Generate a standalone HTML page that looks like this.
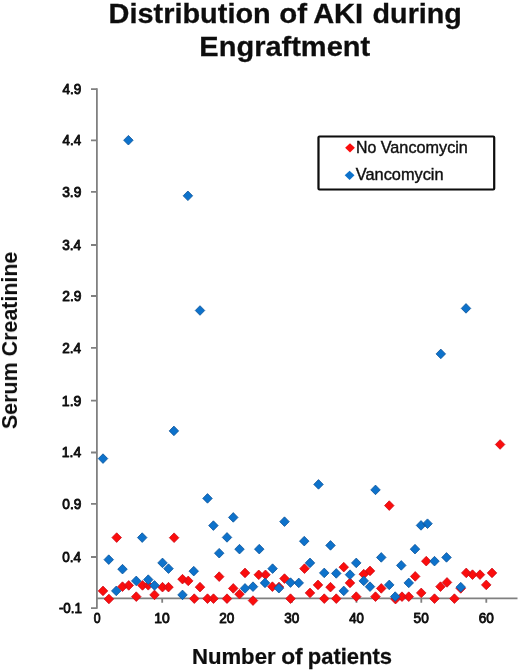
<!DOCTYPE html>
<html><head><meta charset="utf-8"><title>Distribution of AKI during Engraftment</title>
<style>html,body{margin:0;padding:0;background:#fff}svg{display:block}text{font-family:"Liberation Sans",sans-serif;fill:#111}</style></head><body>
<svg width="520" height="670" viewBox="0 0 520 670">
<defs><filter id="soft" x="0" y="0" width="520" height="670" filterUnits="userSpaceOnUse"><feGaussianBlur stdDeviation="0.5"/></filter></defs>
<rect width="520" height="670" fill="#fff"/>
<g filter="url(#soft)">
<g font-weight="bold" font-size="28" stroke="#111" stroke-width="0.3">
<text transform="translate(108.56,23.00) scale(1.0326,1)">Distribution</text>
<text transform="translate(279.28,23.00) scale(1.0509,1)">of</text>
<text transform="translate(313.15,23.00) scale(1.0377,1)">AKI</text>
<text transform="translate(372.56,23.00) scale(1.0262,1)">during</text>
<text transform="translate(199.36,55.80) scale(1.0363,1)">Engraftment</text>
</g>
<g stroke="#808080" stroke-width="1.8" fill="none">
<path d="M96.9,88.35V608.85"/>
<path d="M96.9,598.4H517.5"/>
<path d="M91.0,89.10H96.9M91.0,140.30H96.9M91.0,191.90H96.9M91.0,245.00H96.9M91.0,296.00H96.9M91.0,347.80H96.9M91.0,400.70H96.9M91.0,452.50H96.9M91.0,503.80H96.9M91.0,557.00H96.9M91.0,608.10H96.9"/>
<path d="M162.2,598.4v4.3M226.8,598.4v4.3M291.9,598.4v4.3M356.5,598.4v4.3M421.3,598.4v4.3M486.3,598.4v4.3"/>
</g>
<g font-size="14.4" stroke="#111" stroke-width="0.9" stroke-linejoin="round">
<text transform="translate(62.58,93.90) scale(0.9398,1)">4.9</text>
<text transform="translate(62.58,145.10) scale(0.9261,1)">4.4</text>
<text transform="translate(62.20,196.70) scale(0.9590,1)">3.9</text>
<text transform="translate(62.21,249.80) scale(0.9448,1)">3.4</text>
<text transform="translate(62.21,300.80) scale(0.9588,1)">2.9</text>
<text transform="translate(62.22,352.60) scale(0.9446,1)">2.4</text>
<text transform="translate(61.81,405.50) scale(0.9793,1)">1.9</text>
<text transform="translate(61.83,457.30) scale(0.9645,1)">1.4</text>
<text transform="translate(62.31,508.60) scale(0.9534,1)">0.9</text>
<text transform="translate(62.32,561.80) scale(0.9394,1)">0.4</text>
<text transform="translate(58.90,612.90) scale(0.9335,1)">-0.1</text>
<text transform="translate(93.67,623.10) scale(0.8569,1)">0</text>
<text transform="translate(154.23,623.10) scale(0.9668,1)">10</text>
<text transform="translate(219.22,623.10) scale(0.9412,1)">20</text>
<text transform="translate(284.32,623.10) scale(0.9414,1)">30</text>
<text transform="translate(349.28,623.10) scale(0.9176,1)">40</text>
<text transform="translate(413.62,623.10) scale(0.9478,1)">50</text>
<text transform="translate(478.67,623.10) scale(0.9442,1)">60</text>
</g>
<g font-weight="bold" font-size="22" stroke="#111" stroke-width="0.25">
<text transform="translate(191.91,664.00) scale(1.0069,1)">Number</text>
<text transform="translate(281.16,664.00) scale(1.0375,1)">of</text>
<text transform="translate(307.71,664.00) scale(1.0001,1)">patients</text>
</g>
<text font-weight="bold" font-size="21.6" transform="translate(17.0,429.13) rotate(-90) scale(0.9931,1)">Serum Creatinine</text>
<path fill="#fb0e0e" stroke="#cc0a18" stroke-width="0.8" d="M98.25,590.90L103.00,586.10L107.75,590.90L103.00,595.70ZM104.15,599.00L108.90,594.20L113.65,599.00L108.90,603.80ZM111.95,537.60L116.70,532.80L121.45,537.60L116.70,542.40ZM117.75,586.65L122.50,581.85L127.25,586.65L122.50,591.45ZM124.00,585.40L128.75,580.60L133.50,585.40L128.75,590.20ZM131.50,596.65L136.25,591.85L141.00,596.65L136.25,601.45ZM137.75,585.40L142.50,580.60L147.25,585.40L142.50,590.20ZM143.50,585.30L148.25,580.50L153.00,585.30L148.25,590.10ZM149.75,594.90L154.50,590.10L159.25,594.90L154.50,599.70ZM157.75,587.15L162.50,582.35L167.25,587.15L162.50,591.95ZM163.75,587.15L168.50,582.35L173.25,587.15L168.50,591.95ZM169.35,537.70L174.10,532.90L178.85,537.70L174.10,542.50ZM177.75,579.15L182.50,574.35L187.25,579.15L182.50,583.95ZM183.50,580.90L188.25,576.10L193.00,580.90L188.25,585.70ZM189.50,598.65L194.25,593.85L199.00,598.65L194.25,603.45ZM195.25,587.15L200.00,582.35L204.75,587.15L200.00,591.95ZM202.75,598.65L207.50,593.85L212.25,598.65L207.50,603.45ZM208.75,598.65L213.50,593.85L218.25,598.65L213.50,603.45ZM214.45,576.65L219.20,571.85L223.95,576.65L219.20,581.45ZM222.25,598.65L227.00,593.85L231.75,598.65L227.00,603.45ZM228.50,588.40L233.25,583.60L238.00,588.40L233.25,593.20ZM234.75,594.15L239.50,589.35L244.25,594.15L239.50,598.95ZM240.25,572.90L245.00,568.10L249.75,572.90L245.00,577.70ZM248.25,600.60L253.00,595.80L257.75,600.60L253.00,605.40ZM254.00,574.80L258.75,570.00L263.50,574.80L258.75,579.60ZM260.75,574.80L265.50,570.00L270.25,574.80L265.50,579.60ZM267.65,586.65L272.40,581.85L277.15,586.65L272.40,591.45ZM274.25,587.00L279.00,582.20L283.75,587.00L279.00,591.80ZM279.75,578.60L284.50,573.80L289.25,578.60L284.50,583.40ZM285.75,598.65L290.50,593.85L295.25,598.65L290.50,603.45ZM299.75,568.65L304.50,563.85L309.25,568.65L304.50,573.45ZM305.25,592.90L310.00,588.10L314.75,592.90L310.00,597.70ZM313.25,584.90L318.00,580.10L322.75,584.90L318.00,589.70ZM319.50,598.65L324.25,593.85L329.00,598.65L324.25,603.45ZM325.75,587.15L330.50,582.35L335.25,587.15L330.50,591.95ZM331.50,598.65L336.25,593.85L341.00,598.65L336.25,603.45ZM339.00,567.15L343.75,562.35L348.50,567.15L343.75,571.95ZM345.25,582.90L350.00,578.10L354.75,582.90L350.00,587.70ZM351.50,596.65L356.25,591.85L361.00,596.65L356.25,601.45ZM359.00,574.15L363.75,569.35L368.50,574.15L363.75,578.95ZM365.25,570.90L370.00,566.10L374.75,570.90L370.00,575.70ZM370.75,596.65L375.50,591.85L380.25,596.65L375.50,601.45ZM376.50,588.40L381.25,583.60L386.00,588.40L381.25,593.20ZM384.50,505.60L389.25,500.80L394.00,505.60L389.25,510.40ZM390.75,599.15L395.50,594.35L400.25,599.15L395.50,603.95ZM397.25,596.65L402.00,591.85L406.75,596.65L402.00,601.45ZM404.00,596.65L408.75,591.85L413.50,596.65L408.75,601.45ZM410.45,576.40L415.20,571.60L419.95,576.40L415.20,581.20ZM416.50,592.90L421.25,588.10L426.00,592.90L421.25,597.70ZM421.50,561.15L426.25,556.35L431.00,561.15L426.25,565.95ZM429.75,598.65L434.50,593.85L439.25,598.65L434.50,603.45ZM435.75,586.65L440.50,581.85L445.25,586.65L440.50,591.45ZM442.25,582.40L447.00,577.60L451.75,582.40L447.00,587.20ZM449.65,598.65L454.40,593.85L459.15,598.65L454.40,603.45ZM456.00,588.40L460.75,583.60L465.50,588.40L460.75,593.20ZM461.50,572.90L466.25,568.10L471.00,572.90L466.25,577.70ZM467.75,574.65L472.50,569.85L477.25,574.65L472.50,579.45ZM475.25,574.65L480.00,569.85L484.75,574.65L480.00,579.45ZM481.50,584.90L486.25,580.10L491.00,584.90L486.25,589.70ZM487.25,572.90L492.00,568.10L496.75,572.90L492.00,577.70ZM495.35,444.50L500.10,439.70L504.85,444.50L500.10,449.30Z"/>
<path fill="#0d72cb" stroke="#0c5499" stroke-width="0.8" d="M98.25,458.60L103.00,453.80L107.75,458.60L103.00,463.40ZM104.00,559.65L108.75,554.85L113.50,559.65L108.75,564.45ZM111.50,590.90L116.25,586.10L121.00,590.90L116.25,595.70ZM117.75,569.15L122.50,564.35L127.25,569.15L122.50,573.95ZM123.65,140.20L128.40,135.40L133.15,140.20L128.40,145.00ZM131.50,580.90L136.25,576.10L141.00,580.90L136.25,585.70ZM137.45,537.60L142.20,532.80L146.95,537.60L142.20,542.40ZM143.50,579.65L148.25,574.85L153.00,579.65L148.25,584.45ZM149.75,585.40L154.50,580.60L159.25,585.40L154.50,590.20ZM157.75,562.90L162.50,558.10L167.25,562.90L162.50,567.70ZM163.75,568.65L168.50,563.85L173.25,568.65L168.50,573.45ZM169.15,430.90L173.90,426.10L178.65,430.90L173.90,435.70ZM177.75,594.90L182.50,590.10L187.25,594.90L182.50,599.70ZM183.15,195.80L187.90,191.00L192.65,195.80L187.90,200.60ZM189.00,571.15L193.75,566.35L198.50,571.15L193.75,575.95ZM195.25,310.50L200.00,305.70L204.75,310.50L200.00,315.30ZM202.75,498.40L207.50,493.60L212.25,498.40L207.50,503.20ZM208.65,525.60L213.40,520.80L218.15,525.60L213.40,530.40ZM214.45,553.20L219.20,548.40L223.95,553.20L219.20,558.00ZM222.25,537.40L227.00,532.60L231.75,537.40L227.00,542.20ZM228.50,517.40L233.25,512.60L238.00,517.40L233.25,522.20ZM234.75,549.15L239.50,544.35L244.25,549.15L239.50,553.95ZM240.25,588.40L245.00,583.60L249.75,588.40L245.00,593.20ZM248.25,586.65L253.00,581.85L257.75,586.65L253.00,591.45ZM254.50,549.15L259.25,544.35L264.00,549.15L259.25,553.95ZM260.25,582.90L265.00,578.10L269.75,582.90L265.00,587.70ZM267.85,568.65L272.60,563.85L277.35,568.65L272.60,573.45ZM274.15,588.20L278.90,583.40L283.65,588.20L278.90,593.00ZM279.75,521.65L284.50,516.85L289.25,521.65L284.50,526.45ZM285.75,582.60L290.50,577.80L295.25,582.60L290.50,587.40ZM294.00,582.90L298.75,578.10L303.50,582.90L298.75,587.70ZM299.50,541.15L304.25,536.35L309.00,541.15L304.25,545.95ZM305.25,562.90L310.00,558.10L314.75,562.90L310.00,567.70ZM313.75,484.40L318.50,479.60L323.25,484.40L318.50,489.20ZM319.50,572.90L324.25,568.10L329.00,572.90L324.25,577.70ZM325.75,545.40L330.50,540.60L335.25,545.40L330.50,550.20ZM331.50,573.40L336.25,568.60L341.00,573.40L336.25,578.20ZM339.00,590.90L343.75,586.10L348.50,590.90L343.75,595.70ZM345.25,574.65L350.00,569.85L354.75,574.65L350.00,579.45ZM351.50,562.90L356.25,558.10L361.00,562.90L356.25,567.70ZM359.00,580.90L363.75,576.10L368.50,580.90L363.75,585.70ZM365.25,586.65L370.00,581.85L374.75,586.65L370.00,591.45ZM370.75,489.90L375.50,485.10L380.25,489.90L375.50,494.70ZM376.50,557.40L381.25,552.60L386.00,557.40L381.25,562.20ZM384.50,584.90L389.25,580.10L394.00,584.90L389.25,589.70ZM390.45,596.60L395.20,591.80L399.95,596.60L395.20,601.40ZM396.50,565.40L401.25,560.60L406.00,565.40L401.25,570.20ZM404.00,582.90L408.75,578.10L413.50,582.90L408.75,587.70ZM410.25,549.15L415.00,544.35L419.75,549.15L415.00,553.95ZM416.25,525.40L421.00,520.60L425.75,525.40L421.00,530.20ZM422.75,523.70L427.50,518.90L432.25,523.70L427.50,528.50ZM429.75,561.15L434.50,556.35L439.25,561.15L434.50,565.95ZM436.05,353.90L440.80,349.10L445.55,353.90L440.80,358.70ZM441.75,557.40L446.50,552.60L451.25,557.40L446.50,562.20ZM456.00,587.15L460.75,582.35L465.50,587.15L460.75,591.95ZM461.25,308.40L466.00,303.60L470.75,308.40L466.00,313.20Z"/>
<rect x="318.5" y="136.5" width="175.7" height="53" rx="1" fill="#fff" stroke="#0a0a0a" stroke-width="2.2"/>
<path fill="#fb0e0e" d="M345.10,147.80L350.00,143.20L354.90,147.80L350.00,152.40Z"/>
<path fill="#0d72cb" d="M344.70,175.30L349.60,170.70L354.50,175.30L349.60,179.90Z"/>
<g font-size="16" stroke="#111" stroke-width="0.4">
<text transform="translate(356.08,152.60) scale(0.9915,1)">No</text>
<text transform="translate(380.71,152.60) scale(1.0147,1)">Vancomycin</text>
<text transform="translate(355.81,180.20) scale(1.0218,1)">Vancomycin</text>
</g>
</g>
</svg></body></html>
